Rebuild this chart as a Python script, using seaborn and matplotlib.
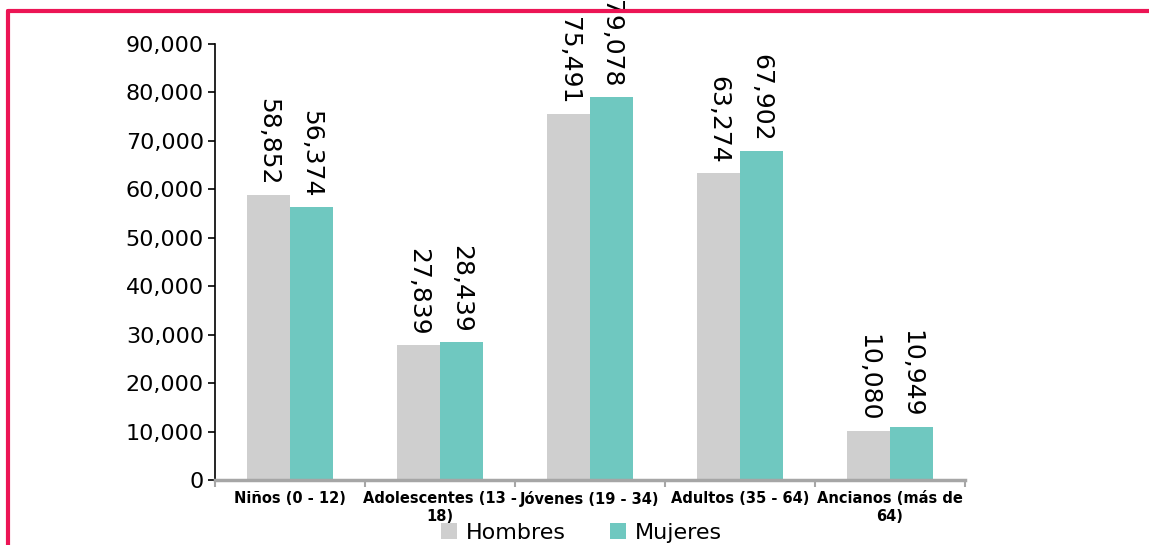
import pandas as pd
import matplotlib.pyplot as plt
import seaborn as sns
from matplotlib.lines import Line2D
from matplotlib.ticker import StrMethodFormatter, FixedLocator

# Datos
grupos = ["Niños (0 - 12)", "Adolescentes (13 -\n18)", "Jóvenes (19 - 34)",
          "Adultos (35 - 64)", "Ancianos (más de\n64)"]
hombres = [58852, 27839, 75491, 63274, 10080]
mujeres = [56374, 28439, 79078, 67902, 10949]
series = ["Hombres", "Mujeres"]
colores = ["#CFCFCF", "#6FC8C0"]

df = pd.DataFrame({
    "grupo": grupos * 2,
    "sexo": ["Hombres"] * len(grupos) + ["Mujeres"] * len(grupos),
    "personas": hombres + mujeres,
})

sns.set_style("white")
plt.rcParams["font.family"] = ["DejaVu Sans"]
plt.rcParams["text.color"] = "black"
plt.rcParams["xtick.color"] = "black"
plt.rcParams["ytick.color"] = "black"

fig = plt.figure(figsize=(11.49, 5.45), dpi=100)
ax = fig.add_axes([215 / 1149, 1 - 480 / 545, 750 / 1149, 436 / 545])

sns.barplot(data=df, x="grupo", y="personas", hue="sexo", hue_order=series,
            palette=colores, width=0.573, gap=0, saturation=1, linewidth=0, ax=ax)

for cont in ax.containers:
    ax.bar_label(cont, fmt="{:,.0f}", rotation=-90, padding=7, fontsize=18,
                 color="black")

ax.set_ylim(0, 90000)
ax.set_xlim(-0.5, len(grupos) - 0.5)
ax.set_yticks(range(0, 90001, 10000))
ax.yaxis.set_major_formatter(StrMethodFormatter("{x:,.0f}"))
ax.tick_params(axis="y", labelsize=16, length=5, width=1.2, color="black",
               left=True, pad=3)
ax.tick_params(axis="x", which="major", length=0, labelsize=10.5, pad=8)
ax.xaxis.set_minor_locator(FixedLocator([i - 0.5 for i in range(len(grupos) + 1)]))
ax.tick_params(axis="x", which="minor", length=5, width=1.5, color="#A6A6A6",
               bottom=True)
for lbl in ax.get_xticklabels():
    lbl.set_fontweight("bold")
    lbl.set_multialignment("center")

ax.set_xlabel("")
ax.set_ylabel("")
for s in ["top", "right"]:
    ax.spines[s].set_visible(False)
ax.spines["left"].set_color("black")
ax.spines["left"].set_linewidth(1.2)
ax.spines["bottom"].set_color("#A6A6A6")
ax.spines["bottom"].set_linewidth(2.5)

ax.legend_.remove()
handles, labels = ax.get_legend_handles_labels()
fig.legend(handles[:2], labels[:2], loc="center", bbox_to_anchor=(0.506, 1 - 533 / 545),
           ncol=2, frameon=False, fontsize=16, handlelength=0.7, handleheight=0.7,
           handletextpad=0.4, columnspacing=2.0, borderaxespad=0, borderpad=0)

# Marco rojo
rojo = "#EC1555"
fig.add_artist(Line2D([8 / 1149, 1], [1 - 11 / 545, 1 - 11 / 545],
                      transform=fig.transFigure, color=rojo, lw=3))
fig.add_artist(Line2D([8 / 1149, 8 / 1149], [0, 1 - 11 / 545],
                      transform=fig.transFigure, color=rojo, lw=3))

fig.savefig("out.png", dpi=100)
